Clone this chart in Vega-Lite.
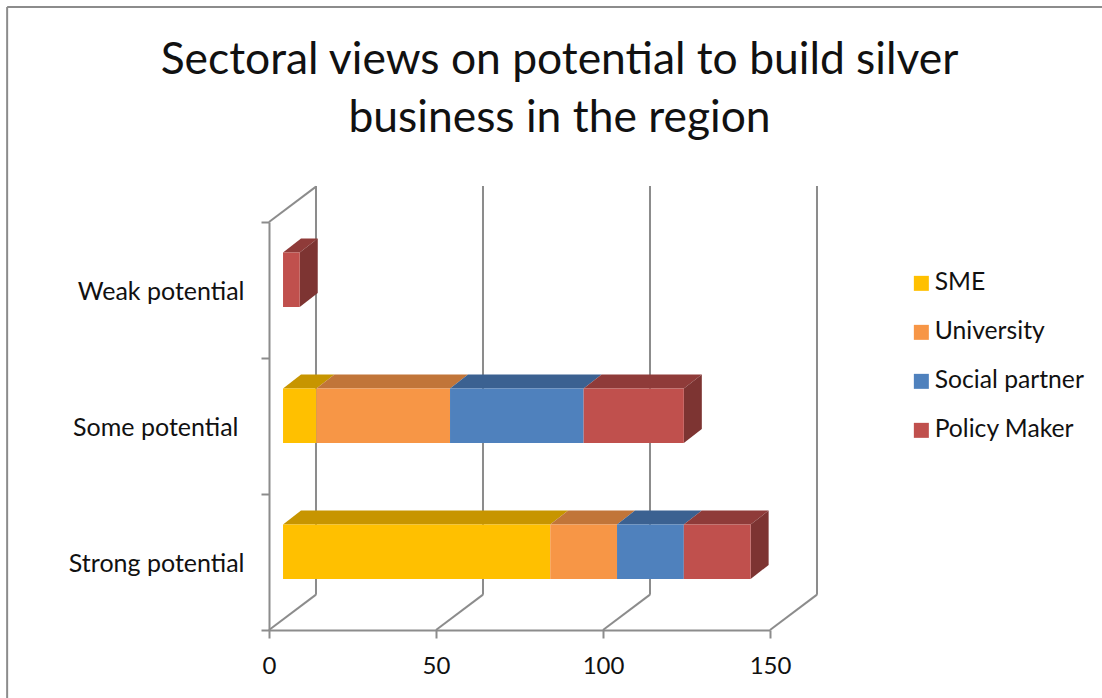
{
  "$schema": "https://vega.github.io/schema/vega-lite/v6.json",
  "width": 501,
  "height": 408,
  "autosize": "none",
  "padding": {"left": 269, "top": 222, "right": 332, "bottom": 68},
  "background": "white",
  "title": {
    "text": ["Sectoral views on potential to build silver", "business in the region"],
    "anchor": "middle",
    "frame": "group",
    "dx": 40,
    "dy": 135,
    "offset": 0,
    "font": "Lato",
    "fontSize": 44.4,
    "fontWeight": "normal",
    "color": "#111111",
    "lineHeight": 58
  },
  "config": {
    "view": {"stroke": null},
    "axis": {"labelFont": "Lato", "labelFontSize": 24, "labelColor": "#111111", "domainColor": "#8c8c8c", "tickColor": "#8c8c8c", "domainWidth": 2, "tickWidth": 2, "tickSize": 8, "grid": false, "title": null},
    "legend": {"labelFont": "Lato", "labelFontSize": 24.7, "labelColor": "#111111"}
  },
  "datasets": {
    "responses": [
      {"potential": "Strong potential", "level": 0, "sector": "SME", "value": 80},
      {"potential": "Strong potential", "level": 0, "sector": "University", "value": 20},
      {"potential": "Strong potential", "level": 0, "sector": "Social partner", "value": 20},
      {"potential": "Strong potential", "level": 0, "sector": "Policy Maker", "value": 20},
      {"potential": "Some potential", "level": 1, "sector": "SME", "value": 10},
      {"potential": "Some potential", "level": 1, "sector": "University", "value": 40},
      {"potential": "Some potential", "level": 1, "sector": "Social partner", "value": 40},
      {"potential": "Some potential", "level": 1, "sector": "Policy Maker", "value": 30},
      {"potential": "Weak potential", "level": 2, "sector": "Policy Maker", "value": 5}
    ],
    "walls": [
      {"tick": 0, "height": 0},
      {"tick": 50, "height": 0},
      {"tick": 100, "height": 0},
      {"tick": 150, "height": 0},
      {"tick": 0, "height": 3}
    ]
  },
  "layer": [
    {
      "description": "Outer chart frame, top and left edges",
      "mark": {"type": "rule", "color": "#8c8c8c", "strokeWidth": 2},
      "data": {"values": [{"x": -78.4, "x2": -78.4, "y": -0.5, "y2": 4.58}, {"x": -78.4, "x2": 250, "y": 4.58, "y2": 4.58}]},
      "encoding": {
        "x": {
          "field": "x", "type": "quantitative",
          "scale": {"domain": [0, 150], "nice": false},
          "axis": {"values": [0, 50, 100, 150], "labelPadding": 16, "labelFlush": false, "labelOverlap": false}
        },
        "x2": {"field": "x2"},
        "y": {
          "field": "y", "type": "quantitative",
          "scale": {"domain": [0, 3], "nice": false},
          "axis": {
            "values": [0, 0.5, 1, 1.5, 2, 2.5, 3],
            "labelFontSize": 25,
            "labelPadding": {"expr": "datum.value === 1.5 ? 23 : 17"},
            "labelOffset": 1,
            "labelOverlap": false,
            "labelExpr": "datum.value === 0.5 ? 'Strong potential' : datum.value === 1.5 ? 'Some potential' : datum.value === 2.5 ? 'Weak potential' : ''",
            "tickOpacity": {"expr": "datum.value % 1 === 0 ? 1 : 0"}
          }
        },
        "y2": {"field": "y2"}
      }
    },
    {
      "description": "Back wall verticals",
      "data": {"name": "walls"},
      "transform": [
        {"filter": "datum.height === 0"},
        {"calculate": "datum.tick + 14.07", "as": "backX"},
        {"calculate": "0.26", "as": "floorY"},
        {"calculate": "3.265", "as": "ceilY"}
      ],
      "mark": {"type": "rule", "color": "#8c8c8c", "strokeWidth": 2},
      "encoding": {
        "x": {"field": "backX", "type": "quantitative", "scale": {"domain": [0, 150], "nice": false}},
        "y": {"field": "floorY", "type": "quantitative", "scale": {"domain": [0, 3], "nice": false}},
        "y2": {"field": "ceilY"}
      }
    },
    {
      "description": "Receding floor and ceiling edges of the walls",
      "data": {"name": "walls"},
      "transform": [
        {"calculate": "[0, 1]", "as": "depth"},
        {"flatten": ["depth"]},
        {"calculate": "datum.tick + 14.07 * datum.depth", "as": "wx"},
        {"calculate": "datum.height + 0.26 * datum.depth", "as": "wy"},
        {"calculate": "datum.tick + '-' + datum.height", "as": "edge"}
      ],
      "mark": {"type": "line", "color": "#8c8c8c", "strokeWidth": 2},
      "encoding": {
        "x": {"field": "wx", "type": "quantitative", "scale": {"domain": [0, 150], "nice": false}},
        "y": {"field": "wy", "type": "quantitative", "scale": {"domain": [0, 3], "nice": false}},
        "detail": {"field": "edge"}
      }
    },
    {
      "description": "Top faces of the stacked bars",
      "data": {"name": "responses"},
      "transform": [
        {"calculate": "indexof(['SME', 'University', 'Social partner', 'Policy Maker'], datum.sector)", "as": "rank"},
        {"stack": "value", "groupby": ["potential"], "sort": [{"field": "rank", "order": "ascending"}], "as": ["v0", "v1"]},
        {"calculate": "[0, 1]", "as": "depth"},
        {"flatten": ["depth"]},
        {"calculate": "datum.v0 + 4.2 + 5.39 * datum.depth", "as": "fx0"},
        {"calculate": "datum.v1 + 4.2 + 5.39 * datum.depth", "as": "fx1"},
        {"calculate": "datum.level + 0.775 + 0.103 * datum.depth", "as": "fy"}
      ],
      "mark": {"type": "area", "orient": "horizontal"},
      "encoding": {
        "x": {"field": "fx0", "type": "quantitative", "scale": {"domain": [0, 150], "nice": false}},
        "x2": {"field": "fx1"},
        "y": {"field": "fy", "type": "quantitative", "scale": {"domain": [0, 3], "nice": false}},
        "color": {
          "field": "sector", "type": "nominal", "legend": null,
          "scale": {"domain": ["SME", "University", "Social partner", "Policy Maker"], "range": ["#c79500", "#c17539", "#3b6191", "#8f3b39"]}
        },
        "detail": {"field": "potential"}
      }
    },
    {
      "description": "Right end face of each bar",
      "data": {"name": "responses"},
      "transform": [
        {"calculate": "indexof(['SME', 'University', 'Social partner', 'Policy Maker'], datum.sector)", "as": "rank"},
        {"stack": "value", "groupby": ["potential"], "sort": [{"field": "rank", "order": "ascending"}], "as": ["v0", "v1"]},
        {"filter": "datum.sector === 'Policy Maker'"},
        {"calculate": "[0, 1]", "as": "depth"},
        {"flatten": ["depth"]},
        {"calculate": "datum.v1 + 4.2 + 5.39 * datum.depth", "as": "sx"},
        {"calculate": "datum.level + 0.375 + 0.103 * datum.depth", "as": "sy0"},
        {"calculate": "datum.level + 0.775 + 0.103 * datum.depth", "as": "sy1"}
      ],
      "mark": {"type": "area", "orient": "vertical", "color": "#7d3432"},
      "encoding": {
        "x": {"field": "sx", "type": "quantitative", "scale": {"domain": [0, 150], "nice": false}},
        "y": {"field": "sy0", "type": "quantitative", "scale": {"domain": [0, 3], "nice": false}},
        "y2": {"field": "sy1"},
        "detail": {"field": "potential"}
      }
    },
    {
      "description": "Front faces of the stacked bars",
      "data": {"name": "responses"},
      "transform": [
        {"calculate": "indexof(['SME', 'University', 'Social partner', 'Policy Maker'], datum.sector)", "as": "rank"},
        {"stack": "value", "groupby": ["potential"], "sort": [{"field": "rank", "order": "ascending"}], "as": ["v0", "v1"]},
        {"calculate": "datum.v0 + 4.2", "as": "fx0"},
        {"calculate": "datum.v1 + 4.2", "as": "fx1"},
        {"calculate": "datum.level + 0.375", "as": "fy0"},
        {"calculate": "datum.level + 0.775", "as": "fy1"}
      ],
      "mark": {"type": "rect"},
      "encoding": {
        "x": {"field": "fx0", "type": "quantitative", "scale": {"domain": [0, 150], "nice": false}},
        "x2": {"field": "fx1"},
        "y": {"field": "fy0", "type": "quantitative", "scale": {"domain": [0, 3], "nice": false}},
        "y2": {"field": "fy1"},
        "color": {
          "field": "sector", "type": "nominal",
          "scale": {"domain": ["SME", "University", "Social partner", "Policy Maker"], "range": ["#ffc000", "#f79646", "#4f81bd", "#c0504d"]},
          "legend": {"title": null, "orient": "none", "legendX": 640, "legendY": 49, "symbolType": "square", "symbolSize": 225, "symbolOpacity": 1, "symbolStrokeWidth": 0, "labelOffset": 1, "rowPadding": 23}
        }
      }
    }
  ],
  "resolve": {"scale": {"color": "independent"}}
}
